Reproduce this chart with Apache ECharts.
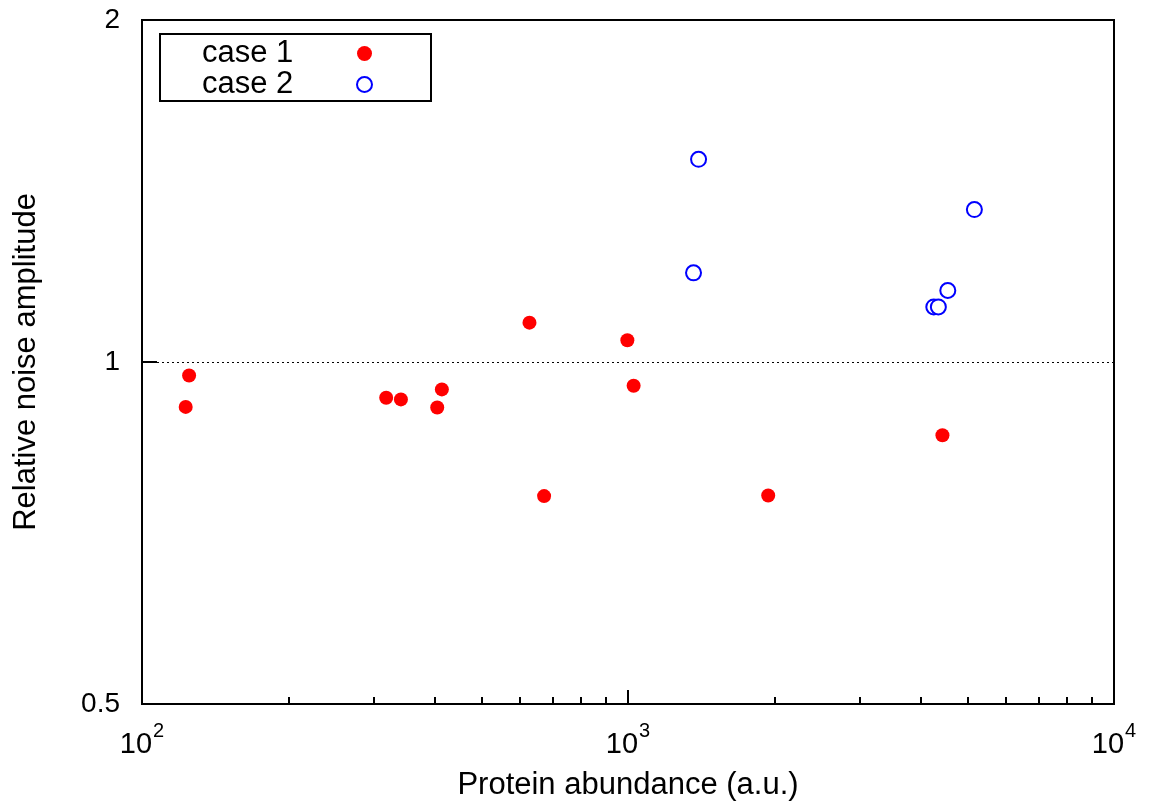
<!DOCTYPE html>
<html>
<head>
<meta charset="utf-8">
<script src="https://cdn.jsdelivr.net/npm/echarts@6/dist/echarts.min.js"></script>
<style>
html,body{margin:0;padding:0;background:#fff;}
#chart{width:1150px;height:808px;}
</style>
</head>
<body>
<div id="chart"></div>
<script>
// ---- data ----
const case1X = [123, 125, 318, 341, 405, 414, 627, 672, 997, 1027, 1943, 4436];
const case1Y = [0.913, 0.973, 0.930, 0.927, 0.912, 0.946, 1.083, 0.762, 1.045, 0.953, 0.763, 0.862];
const case2X = [1364, 1397, 4258, 4351, 4550, 5161];
const case2Y = [1.198, 1.508, 1.118, 1.118, 1.156, 1.362];
const xMajorTicks = [100, 1000, 10000];
const xMinorTicks = [200, 300, 400, 500, 600, 700, 800, 900, 2000, 3000, 4000, 5000, 6000, 7000, 8000, 9000];
const yTicks = [0.5, 1, 2];
const seriesNames = ['case 1', 'case 2'];
const xTitle = 'Protein abundance (a.u.)';
const yTitle = 'Relative noise amplitude';

const FONT = "'Liberation Sans', Arial, Helvetica, sans-serif";
const chart = echarts.init(document.getElementById('chart'), null, {renderer: 'canvas'});

function pairs(xs, ys) { return xs.map((x, i) => [x, ys[i]]); }

const option = {
  animation: false,
  backgroundColor: '#fff',
  textStyle: {fontFamily: FONT, color: '#000'},
  grid: {left: 142, right: 36, top: 20, bottom: 104, containLabel: false, outerBoundsMode: 'none',
         show: true, borderColor: '#000', borderWidth: 2, backgroundColor: 'transparent'},
  legend: {
    left: 160, top: 34,
    orient: 'vertical',
    align: 'right',
    padding: [4, 58, 1, 42],
    itemGap: 0,
    itemWidth: 15, itemHeight: 15,
    borderColor: '#000', borderWidth: 2,
    data: seriesNames,
    formatter: name => '{t|' + name + '}',
    textStyle: {
      fontFamily: FONT, fontSize: 31, color: '#000', lineHeight: 28,
      rich: {t: {fontFamily: FONT, fontSize: 31, color: '#000', width: 150, align: 'left', lineHeight: 28}}
    }
  },
  xAxis: [{
    type: 'log', logBase: 10, min: xMajorTicks[0], max: xMajorTicks[xMajorTicks.length - 1],
    position: 'bottom',
    name: xTitle, nameLocation: 'middle', nameGap: 66,
    nameTextStyle: {fontFamily: FONT, fontSize: 31, color: '#000'},
    axisLine: {show: true, lineStyle: {color: '#000', width: 2}},
    axisTick: {show: true, inside: true, length: 14, lineStyle: {color: '#000', width: 2}, customValues: xMajorTicks},
    splitLine: {show: false},
    axisLabel: {
      customValues: xMajorTicks,
      margin: 17,
      formatter: v => '{b|10}{s|' + Math.round(Math.log10(v)) + '}',
      rich: {
        b: {fontFamily: FONT, fontSize: 29, color: '#000', verticalAlign: 'bottom', lineHeight: 38},
        s: {fontFamily: FONT, fontSize: 20, color: '#000', verticalAlign: 'top', lineHeight: 38, padding: [0, 0, 0, 1]}
      }
    }
  }, {
    type: 'log', logBase: 10, min: xMajorTicks[0], max: xMajorTicks[xMajorTicks.length - 1],
    position: 'bottom', gridIndex: 0,
    axisLine: {show: false},
    axisTick: {show: true, inside: true, length: 7, lineStyle: {color: '#000', width: 2}, customValues: xMinorTicks},
    axisLabel: {show: false},
    splitLine: {show: false}
  }],
  yAxis: {
    type: 'log', logBase: 2, min: yTicks[0], max: yTicks[yTicks.length - 1],
    name: yTitle, nameLocation: 'middle', nameGap: 100,
    nameTextStyle: {fontFamily: FONT, fontSize: 31, color: '#000'},
    axisLine: {show: true, lineStyle: {color: '#000', width: 2}},
    axisTick: {show: true, inside: true, length: 15, lineStyle: {color: '#000', width: 2}, customValues: yTicks},
    axisLabel: {fontFamily: FONT, fontSize: 28, color: '#000', margin: 22, customValues: yTicks, formatter: v => String(v)},
    splitLine: {show: true, showMinLine: false, showMaxLine: false, lineStyle: {color: '#000', width: 1, type: [2, 3]}}
  },
  series: [{
    name: seriesNames[0], type: 'scatter', symbol: 'circle', symbolSize: 14,
    itemStyle: {color: '#ff0000', opacity: 1},
    data: pairs(case1X, case1Y)
  }, {
    name: seriesNames[1], type: 'scatter', symbol: 'emptyCircle', symbolSize: 15,
    itemStyle: {color: '#0000ff', borderColor: '#0000ff', borderWidth: 1.5, opacity: 1},
    data: pairs(case2X, case2Y)
  }]
};
chart.setOption(option);
</script>
</body>
</html>
